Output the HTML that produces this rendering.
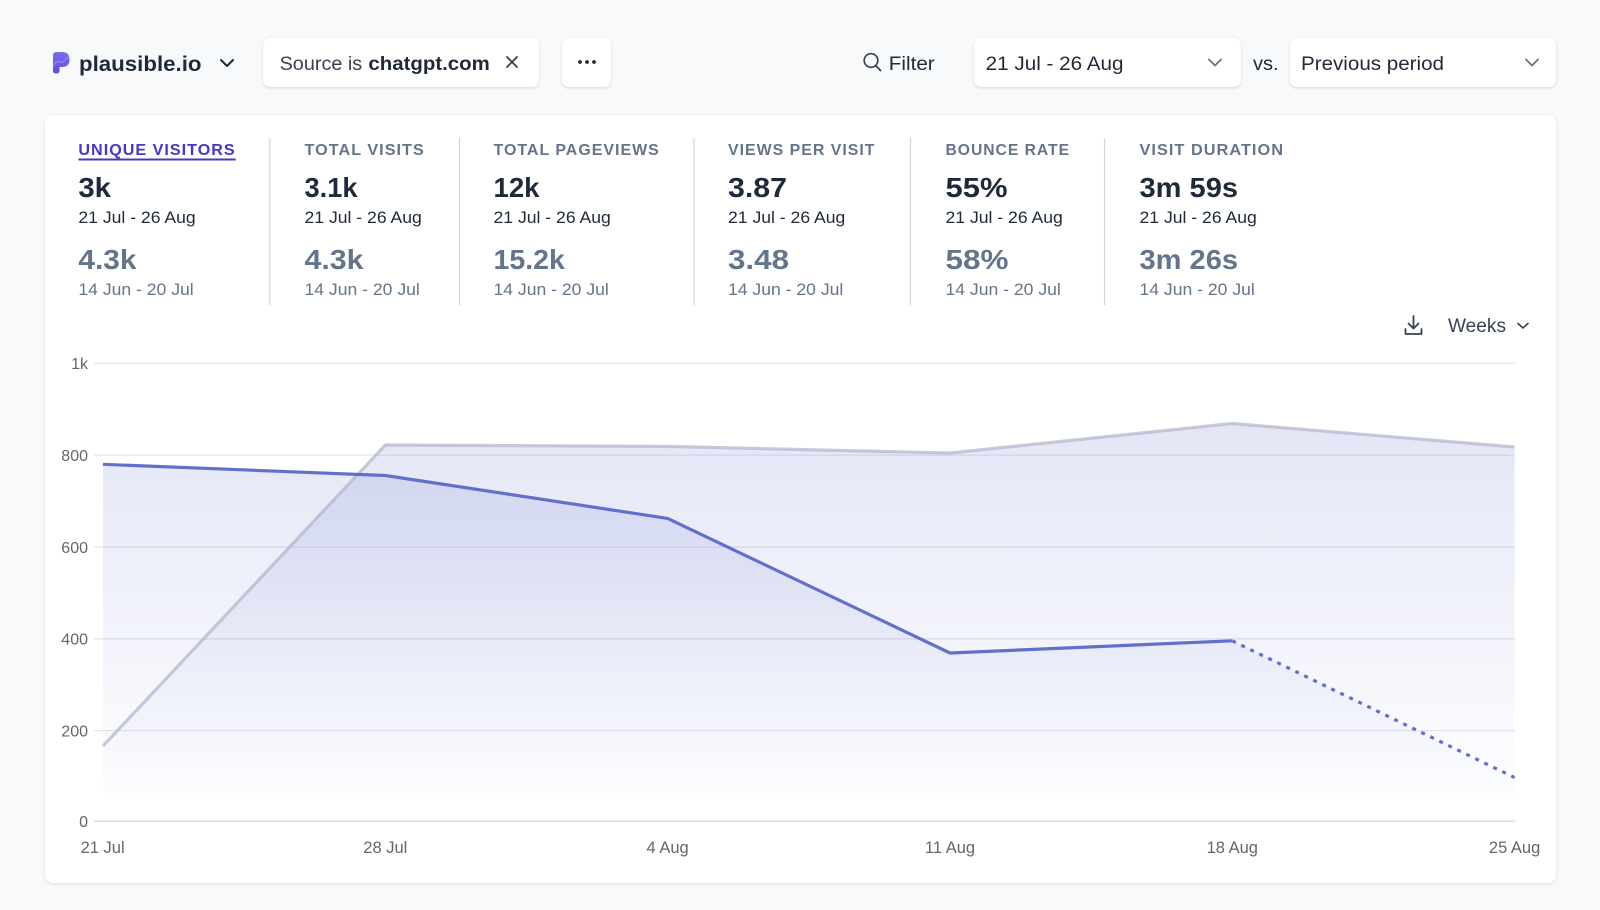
<!DOCTYPE html>
<html><head><meta charset="utf-8"><style>
html,body{margin:0;padding:0;}
body{width:1600px;height:910px;background:#f8f9fb;position:relative;overflow:hidden;font-family:"Liberation Sans",sans-serif;}
.box{position:absolute;background:#fff;border-radius:7px;box-shadow:0 1px 3px rgba(0,0,0,0.10),0 1px 2px rgba(0,0,0,0.05);}
svg{position:absolute;left:0;top:0;}
</style></head><body>
<div class="box" style="left:263px;top:38px;width:276px;height:49px;"></div>
<div class="box" style="left:562px;top:38px;width:49px;height:49px;"></div>
<div class="box" style="left:974px;top:38px;width:267px;height:49px;"></div>
<div class="box" style="left:1290px;top:38px;width:266px;height:49px;"></div>
<div class="box" style="left:45px;top:115px;width:1511px;height:768px;border-radius:8px;box-shadow:0 1px 4px rgba(0,0,0,0.08),0 1px 2px rgba(0,0,0,0.04);"></div>
<svg width="1600" height="910" viewBox="0 0 1600 910" xmlns="http://www.w3.org/2000/svg" font-family="Liberation Sans, sans-serif">
<defs>
<linearGradient id="lg" x1="0" y1="52" x2="0" y2="74" gradientUnits="userSpaceOnUse"><stop offset="0" stop-color="#7c6cf0"/><stop offset="1" stop-color="#5a4fd8"/></linearGradient>
<linearGradient id="fill" x1="0" y1="363" x2="0" y2="805" gradientUnits="userSpaceOnUse"><stop offset="0" stop-color="rgb(101,116,205)" stop-opacity="0.21"/><stop offset="1" stop-color="rgb(101,116,205)" stop-opacity="0"/></linearGradient>
</defs>
<!-- logo -->
<path d="M53,55.5 Q53,52 56.5,52 L62,52 Q69.5,52 69.5,59.5 Q69.5,67 62,67 L59.5,67 L59.5,71 Q59.5,73.5 56.2,73.5 Q53,73.5 53,71 Z" fill="url(#lg)"/>
<path d="M53,66.5 Q56.5,60 59.5,62 Q62.5,64 68.5,56.5" stroke="#9a90f7" stroke-width="1.6" fill="none" opacity="0.7"/>
<text x="79" y="71" font-size="21.5" font-weight="bold" fill="#1e293b" textLength="122.5" lengthAdjust="spacingAndGlyphs">plausible.io</text>
<path d="M221,60 L227,66 L233,60" stroke="#1e293b" stroke-width="2" fill="none" stroke-linecap="round" stroke-linejoin="round"/>
<!-- source pill -->
<text x="279.6" y="70" font-size="19" fill="#374151" textLength="82.6" lengthAdjust="spacingAndGlyphs">Source is</text>
<text x="368.4" y="70" font-size="19" font-weight="bold" fill="#1f2937" textLength="121.4" lengthAdjust="spacingAndGlyphs">chatgpt.com</text>
<path d="M507,57 L517,67 M517,57 L507,67" stroke="#374151" stroke-width="1.8" stroke-linecap="round"/>
<circle cx="580" cy="62" r="1.9" fill="#1f2937"/><circle cx="587" cy="62" r="1.9" fill="#1f2937"/><circle cx="594" cy="62" r="1.9" fill="#1f2937"/>
<!-- filter -->
<circle cx="871" cy="60.5" r="6.8" stroke="#374151" stroke-width="1.7" fill="none"/>
<path d="M876,66 L880.5,70.5" stroke="#374151" stroke-width="1.8" stroke-linecap="round"/>
<text x="888.8" y="70" font-size="19" fill="#1f2937" textLength="45.9" lengthAdjust="spacingAndGlyphs">Filter</text>
<text x="985.7" y="70" font-size="19" fill="#1f2937" textLength="137.8" lengthAdjust="spacingAndGlyphs">21 Jul - 26 Aug</text>
<path d="M1209,59.5 L1215,65.5 L1221,59.5" stroke="#6b7280" stroke-width="1.8" fill="none" stroke-linecap="round" stroke-linejoin="round"/>
<text x="1253" y="70" font-size="19" fill="#1f2937" textLength="25.6" lengthAdjust="spacingAndGlyphs">vs.</text>
<text x="1301" y="70" font-size="19" fill="#1f2937" textLength="143" lengthAdjust="spacingAndGlyphs">Previous period</text>
<path d="M1526,59.5 L1532,65.5 L1538,59.5" stroke="#6b7280" stroke-width="1.8" fill="none" stroke-linecap="round" stroke-linejoin="round"/>

<!-- metrics -->
<g font-size="16" font-weight="bold" fill="#64748b" letter-spacing="1">
<text x="78.4" y="155" fill="#4338ca" textLength="157.3" lengthAdjust="spacingAndGlyphs">UNIQUE VISITORS</text>
<text x="304.5" y="155" textLength="120.3" lengthAdjust="spacingAndGlyphs">TOTAL VISITS</text>
<text x="493.5" y="155" textLength="166.3" lengthAdjust="spacingAndGlyphs">TOTAL PAGEVIEWS</text>
<text x="728" y="155" textLength="147.5" lengthAdjust="spacingAndGlyphs">VIEWS PER VISIT</text>
<text x="945.5" y="155" textLength="124.5" lengthAdjust="spacingAndGlyphs">BOUNCE RATE</text>
<text x="1139.5" y="155" textLength="144.5" lengthAdjust="spacingAndGlyphs">VISIT DURATION</text>
</g>
<rect x="78.4" y="158.5" width="157.3" height="2" fill="#4338ca"/>
<g stroke="#d1d5db" stroke-width="1.2">
<line x1="269.8" y1="138" x2="269.8" y2="305"/>
<line x1="459.5" y1="138" x2="459.5" y2="305"/>
<line x1="694" y1="138" x2="694" y2="305"/>
<line x1="910.5" y1="138" x2="910.5" y2="305"/>
<line x1="1104.5" y1="138" x2="1104.5" y2="305"/>
</g>
<g font-size="28" font-weight="bold" fill="#1e293b">
<text x="78.4" y="197" textLength="32.6" lengthAdjust="spacingAndGlyphs">3k</text>
<text x="304.5" y="197" textLength="53" lengthAdjust="spacingAndGlyphs">3.1k</text>
<text x="493.5" y="197" textLength="46" lengthAdjust="spacingAndGlyphs">12k</text>
<text x="728" y="197" textLength="59" lengthAdjust="spacingAndGlyphs">3.87</text>
<text x="945.5" y="197" textLength="62" lengthAdjust="spacingAndGlyphs">55%</text>
<text x="1139.5" y="197" textLength="98.5" lengthAdjust="spacingAndGlyphs">3m 59s</text>
</g>
<g font-size="17" fill="#1f2937">
<text x="78.4" y="223" textLength="117.3" lengthAdjust="spacingAndGlyphs">21 Jul - 26 Aug</text>
<text x="304.5" y="223" textLength="117.3" lengthAdjust="spacingAndGlyphs">21 Jul - 26 Aug</text>
<text x="493.5" y="223" textLength="117.3" lengthAdjust="spacingAndGlyphs">21 Jul - 26 Aug</text>
<text x="728" y="223" textLength="117.3" lengthAdjust="spacingAndGlyphs">21 Jul - 26 Aug</text>
<text x="945.5" y="223" textLength="117.3" lengthAdjust="spacingAndGlyphs">21 Jul - 26 Aug</text>
<text x="1139.5" y="223" textLength="117.3" lengthAdjust="spacingAndGlyphs">21 Jul - 26 Aug</text>
</g>
<g font-size="28" font-weight="bold" fill="#64748b">
<text x="78.4" y="269" textLength="58" lengthAdjust="spacingAndGlyphs">4.3k</text>
<text x="304.5" y="269" textLength="59" lengthAdjust="spacingAndGlyphs">4.3k</text>
<text x="493.5" y="269" textLength="71.4" lengthAdjust="spacingAndGlyphs">15.2k</text>
<text x="728" y="269" textLength="61" lengthAdjust="spacingAndGlyphs">3.48</text>
<text x="945.5" y="269" textLength="63" lengthAdjust="spacingAndGlyphs">58%</text>
<text x="1139.5" y="269" textLength="98.5" lengthAdjust="spacingAndGlyphs">3m 26s</text>
</g>
<g font-size="17" fill="#64748b">
<text x="78.4" y="295" textLength="115.3" lengthAdjust="spacingAndGlyphs">14 Jun - 20 Jul</text>
<text x="304.5" y="295" textLength="115.3" lengthAdjust="spacingAndGlyphs">14 Jun - 20 Jul</text>
<text x="493.5" y="295" textLength="115.3" lengthAdjust="spacingAndGlyphs">14 Jun - 20 Jul</text>
<text x="728" y="295" textLength="115.3" lengthAdjust="spacingAndGlyphs">14 Jun - 20 Jul</text>
<text x="945.5" y="295" textLength="115.3" lengthAdjust="spacingAndGlyphs">14 Jun - 20 Jul</text>
<text x="1139.5" y="295" textLength="115.3" lengthAdjust="spacingAndGlyphs">14 Jun - 20 Jul</text>
</g>

<!-- weeks control -->
<path d="M1413.5,316 L1413.5,328 M1408.5,323.5 L1413.5,328.5 L1418.5,323.5" stroke="#374151" stroke-width="1.8" fill="none" stroke-linecap="round" stroke-linejoin="round"/>
<path d="M1405.5,329 L1405.5,334 L1421.5,334 L1421.5,329" stroke="#374151" stroke-width="1.8" fill="none" stroke-linecap="round" stroke-linejoin="round"/>
<text x="1448" y="332" font-size="19" fill="#374151" textLength="58" lengthAdjust="spacingAndGlyphs">Weeks</text>
<path d="M1518,323.5 L1523,328 L1528,323.5" stroke="#374151" stroke-width="1.6" fill="none" stroke-linecap="round" stroke-linejoin="round"/>

<!-- chart grid -->
<g stroke="#e5e7eb" stroke-width="1.3">
<line x1="94" y1="363.3" x2="1515" y2="363.3"/>
<line x1="94" y1="455.1" x2="1515" y2="455.1"/>
<line x1="94" y1="547" x2="1515" y2="547"/>
<line x1="94" y1="638.8" x2="1515" y2="638.8"/>
<line x1="94" y1="730.6" x2="1515" y2="730.6"/>
</g>
<g font-size="16" fill="#666" text-anchor="end">
<text x="88" y="369">1k</text>
<text x="88" y="461">800</text>
<text x="88" y="553">600</text>
<text x="88" y="644.5">400</text>
<text x="88" y="736.5">200</text>
<text x="88" y="827">0</text>
</g>
<g font-size="16.5" fill="#666" text-anchor="middle">
<text x="102.6" y="853">21 Jul</text>
<text x="385.3" y="853">28 Jul</text>
<text x="667.6" y="853">4 Aug</text>
<text x="950" y="853">11 Aug</text>
<text x="1232.3" y="853">18 Aug</text>
<text x="1514.6" y="853">25 Aug</text>
</g>

<!-- fills -->
<path d="M103,746 L385.32,445 L667.64,446.4 L949.96,453 L1232.28,423.5 L1514.6,447 L1514.6,821.4 L103,821.4 Z" fill="url(#fill)"/>
<path d="M103,464.3 L385.32,475.5 L667.64,518.4 L949.96,653 L1232.28,640.8 L1514.6,777.6 L1514.6,821.4 L103,821.4 Z" fill="url(#fill)"/>
<line x1="94" y1="821.4" x2="1515" y2="821.4" stroke="#dcdde0" stroke-width="1.5"/>
<!-- previous line -->
<path d="M103,746 L385.32,445 L667.64,446.4 L949.96,453 L1232.28,423.5 L1514.6,447" stroke="rgba(180,184,205,0.75)" stroke-width="3.2" fill="none" stroke-linejoin="round"/>
<!-- current line -->
<path d="M103,464.3 L385.32,475.5 L667.64,518.4 L949.96,653 L1232.28,640.8" stroke="#6370cb" stroke-width="3.2" fill="none" stroke-linejoin="round"/>
<path d="M1232.28,640.8 L1514.6,777.6" stroke="#6370cb" stroke-width="3.2" fill="none" stroke-dasharray="4,6"/>
</svg>
</body></html>
